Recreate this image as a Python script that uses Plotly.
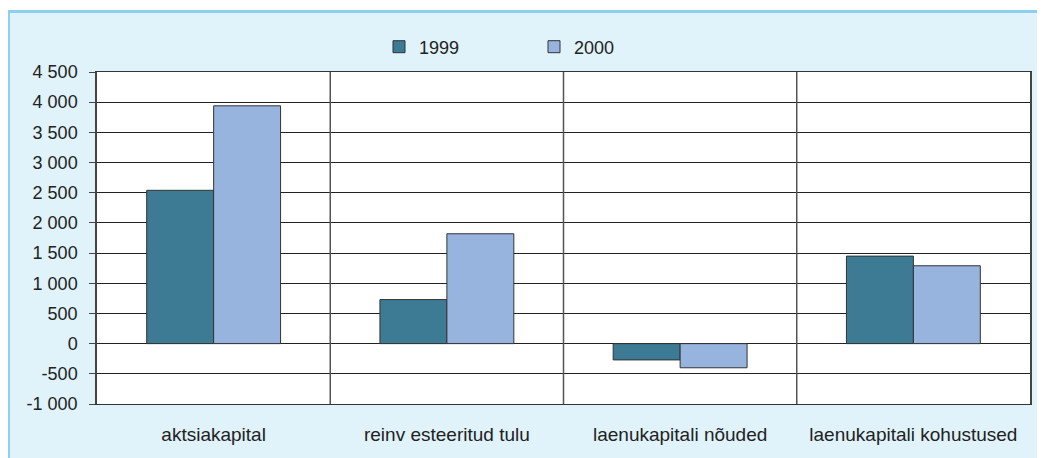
import plotly.graph_objects as go

categories = ["aktsiakapital", "reinv esteeritud tulu", "laenukapitali nõuded", "laenukapitali kohustused"]
series_names = ["1999", "2000"]
values_1999 = [2540, 730, -270, 1450]
values_2000 = [3940, 1820, -400, 1290]
tick_vals = [-1000, -500, 0, 500, 1000, 1500, 2000, 2500, 3000, 3500, 4000, 4500]
tick_text = ["-1 000", "-500", "0", "500", "1 000", "1 500", "2 000", "2 500", "3 000", "3 500", "4 000", "4 500"]

colors = ["#3D7A93", "#96B4DD"]
OFF = 8  # page body margin
SW, SH = 1045, 458
W, H = SW - OFF, SH - OFF
# plot area in screen coordinates
PL, PR, PT, PB = 97, 1030, 72, 404
L, T = PL - OFF, PT - OFF
R, B = W - (PR - OFF), H - (PB - OFF)
pw, ph = W - L - R, H - T - B

def fx(sx):
    return (sx - OFF - L) / pw

def fy(sy):
    return (H - B - (sy - OFF)) / ph

fig = go.Figure()
for name, vals, c in zip(series_names, [values_1999, values_2000], colors):
    fig.add_trace(go.Bar(
        x=categories, y=vals, name=name,
        marker=dict(color=c, line=dict(color="#333333", width=1)),
    ))

shapes = []
for i in range(len(categories) - 1):
    shapes.append(dict(type="line", xref="x", yref="paper", x0=i + 0.5, x1=i + 0.5,
                       y0=0, y1=1, line=dict(color="#555555", width=1.5), layer="above"))
# outer frame: white strip on top and light-blue border
shapes.append(dict(type="rect", xref="paper", yref="paper", x0=fx(0), x1=fx(SW + 5),
                   y0=fy(10), y1=fy(-5), fillcolor="white", line=dict(width=0), layer="below"))
shapes.append(dict(type="rect", xref="paper", yref="paper", x0=fx(7), x1=fx(10),
                   y0=fy(SH + 5), y1=fy(10), fillcolor="#8ECFEF", line=dict(width=0), layer="below"))
shapes.append(dict(type="rect", xref="paper", yref="paper", x0=fx(7), x1=fx(SW + 5),
                   y0=fy(13), y1=fy(10), fillcolor="#8ECFEF", line=dict(width=0), layer="below"))

fig.update_layout(
    width=W, height=H,
    margin=dict(l=L, r=R, t=T, b=B),
    paper_bgcolor="#E0F2FA", plot_bgcolor="white",
    font=dict(family="Liberation Sans, Arial, sans-serif", color="#222222", size=18),
    barmode="group", bargap=0.426, bargroupgap=0,
    showlegend=True,
    legend=dict(orientation="h", x=fx(379), xanchor="left", y=fy(47), yanchor="middle",
                bgcolor="rgba(0,0,0,0)", font=dict(size=18),
                entrywidth=110, entrywidthmode="pixels", traceorder="normal"),
    shapes=shapes,
)
fig.update_xaxes(showgrid=False, showline=True, mirror=True, linecolor="#333333", linewidth=1,
                 ticks="", tickfont=dict(size=19), ticklabelstandoff=13, zeroline=False)
fig.update_yaxes(range=[-1000, 4500], tickvals=tick_vals, ticktext=tick_text,
                 showgrid=True, gridcolor="#222222", gridwidth=1,
                 zeroline=True, zerolinecolor="#222222", zerolinewidth=1,
                 showline=True, mirror=True, linecolor="#444444", linewidth=1.5,
                 ticks="outside", ticklen=6, tickcolor="#444444", ticklabelstandoff=8,
                 tickfont=dict(size=18))

fig.write_html("out.html")
